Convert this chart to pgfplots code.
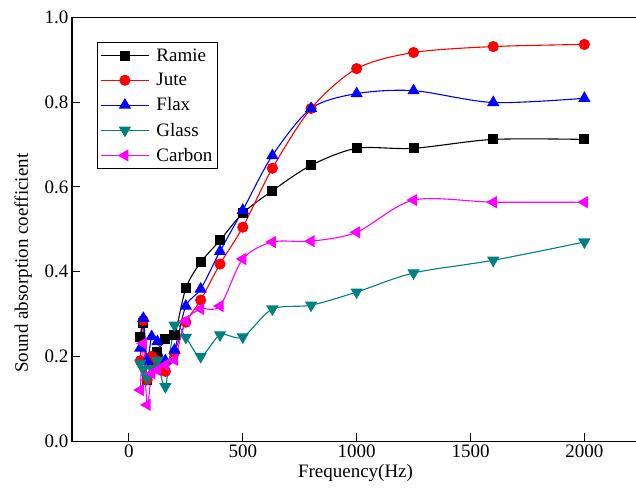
\documentclass[border=0pt]{standalone}
\usepackage{fontspec}
\setmainfont{Liberation Serif}
\usepackage{pgfplots}
\pgfplotsset{compat=1.18}
\definecolor{teal2}{RGB}{0,128,128}
\definecolor{mag}{RGB}{255,0,255}
\definecolor{rd}{RGB}{255,0,0}
\definecolor{bl}{RGB}{0,0,255}
\begin{document}
\begin{tikzpicture}
\begin{axis}[
  scale only axis, width=567pt, height=424pt,
  xmin=-250, xmax=2240, ymin=0, ymax=1,
  xtick={0,500,1000,1500,2000},
  ytick={0,0.2,0.4,0.6,0.8,1.0},
  yticklabel style={/pgf/number format/.cd, fixed, fixed zerofill, precision=1},
  xticklabel style={/pgf/number format/1000 sep={}},
  /pgf/number format/assume math mode=true,
  xtick pos=bottom, ytick pos=left,
  tick align=inside, major tick length=8pt,
  axis line style={line width=1.2pt},
  tick style={line width=1pt, black},
  font=\fontsize{19}{22}\selectfont,
  xlabel={Frequency(Hz)}, ylabel={Sound absorption coefficient},
  ylabel shift=6pt,
  ylabel style={at={(ticklabel cs:0.42)}},
  legend style={at={(0.044,0.941)}, anchor=north west, draw=black, line width=0.8pt,
    font=\fontsize{19}{22}\selectfont, row sep=6.5pt, inner xsep=3pt, inner ysep=4pt},
  legend cell align=left,
  legend image code/.code={\draw[mark repeat=2,mark phase=2] plot coordinates {(0pt,0pt)(24pt,0pt)(48pt,0pt)};\path (53pt,0pt);},
  every axis plot/.append style={line width=1.1pt, smooth, tension=0.5},
]
\addplot[black, mark=square*, mark size=4.5pt, mark options={solid}] coordinates {
(50,0.245)(63,0.28)(80,0.145)(100,0.19)(125,0.21)(160,0.242)(200,0.25)(250,0.361)(315,0.422)(400,0.474)(500,0.538)(630,0.591)(800,0.651)(1000,0.691)(1250,0.691)(1600,0.712)(2000,0.712)};
\addlegendentry{Ramie}
\addplot[rd, mark=*, mark size=5pt] coordinates {
(50,0.19)(63,0.285)(80,0.145)(100,0.2)(125,0.19)(160,0.165)(200,0.21)(250,0.281)(315,0.333)(400,0.418)(500,0.505)(630,0.644)(800,0.785)(1000,0.879)(1250,0.917)(1600,0.931)(2000,0.936)};
\addlegendentry{Jute}
\addplot[bl, mark=triangle*, mark size=6pt] coordinates {
(50,0.22)(63,0.29)(80,0.19)(100,0.247)(125,0.235)(160,0.19)(200,0.215)(250,0.319)(315,0.359)(400,0.448)(500,0.545)(630,0.674)(800,0.785)(1000,0.82)(1250,0.827)(1600,0.799)(2000,0.809)};
\addlegendentry{Flax}
\addplot[teal2, mark=triangle*, mark size=6pt, mark options={rotate=180}] coordinates {
(50,0.184)(63,0.17)(80,0.149)(100,0.172)(125,0.19)(160,0.129)(200,0.274)(250,0.245)(315,0.2)(400,0.251)(500,0.246)(630,0.312)(800,0.321)(1000,0.352)(1250,0.397)(1600,0.427)(2000,0.47)};
\addlegendentry{Glass}
\addplot[mag, mark=triangle*, mark size=6pt, mark options={rotate=90}] coordinates {
(50,0.121)(63,0.231)(80,0.086)(100,0.16)(125,0.168)(160,0.18)(200,0.192)(250,0.284)(315,0.312)(400,0.319)(500,0.43)(630,0.47)(800,0.472)(1000,0.493)(1250,0.569)(1600,0.564)(2000,0.564)};
\addlegendentry{Carbon}
\end{axis}
\pgfresetboundingbox
\path[use as bounding box] ([xshift=-72pt,yshift=-54.5pt]current axis.south west) rectangle ([xshift=564pt,yshift=17.3pt]current axis.north west);
\end{tikzpicture}
\end{document}
